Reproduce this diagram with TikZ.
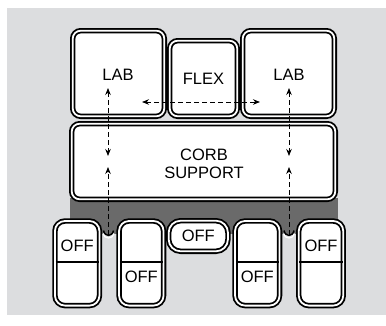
\documentclass[tikz,border=0pt]{standalone}
\usepackage{fontspec}
\setmainfont{Liberation Sans}
\usetikzlibrary{arrows.meta,calc}
\definecolor{bggray}{HTML}{DCDDDF}
\definecolor{dkgray}{HTML}{6A6A6A}
\begin{document}
\begin{tikzpicture}[x=1pt,y=-1pt,
  box/.style={draw=black, double=white, double distance=1.8pt, line width=1.8pt,
    fill=white, rounded corners=8pt, inner sep=0pt, align=center,
    font=\fontsize{16.5}{18.5}\selectfont},
  offbox/.style={box, rounded corners=10pt, minimum width=44.5pt, minimum height=84.6pt},
  txt/.style={inner sep=0pt, font=\fontsize{16.5}{18.5}\selectfont},
  divider/.style={line width=1.8pt, draw=black},
  flow/.style={draw=black, line width=0.8pt, dash pattern=on 5pt off 3pt},
  tip/.style={-{Stealth[length=7pt,width=5.5pt]}},
  tips/.style={{Stealth[length=7pt,width=5.5pt]}-{Stealth[length=7pt,width=5.5pt]}}
]
\useasboundingbox (0,0) rectangle (386,325);
% background
\fill[bggray] (7,8) rectangle (386,315);
% dark support band and channels
\fill[dkgray] (70,198) rectangle (338,234);
% boxes
\node[box, minimum width=91.6pt, minimum height=85.6pt] (labL) at (118.5,73.5) {};
\node[box, minimum width=67.6pt, minimum height=75.6pt] (flex) at (203.5,78.5) {FLEX};
\node[box, minimum width=91.6pt, minimum height=85.6pt] (labR) at (288.5,73.5) {};
\node[box, minimum width=263.6pt, minimum height=75.6pt] (corb) at (203.5,161.5) {};
\node[offbox] (off1) at (77.2,263.3) {};
\node[offbox] (off2) at (141.3,263.3) {};
\node[box, rounded corners=12pt, minimum width=59.3pt, minimum height=30.6pt] (off3) at (198.3,236) {OFF};
\node[offbox] (off4) at (257.3,263.3) {};
\node[offbox] (off5) at (321,263.3) {};
% channel ends
\draw[black, line width=1.5pt] (103.5,230.5) .. controls (104.5,237) and (112.5,237) .. (113.5,230.5);
\draw[white, line width=1.2pt] (103,233.5) .. controls (104,239.5) and (113,239.5) .. (114,233.5);
\draw[black, line width=1.5pt] (284,230.5) .. controls (285,237) and (293,237) .. (294,230.5);
\draw[white, line width=1.2pt] (283.5,233.5) .. controls (284.5,239.5) and (293.5,239.5) .. (294.5,233.5);
% dividers
\foreach \b in {off1,off2,off4,off5}{
  \draw[divider] ([xshift=1.6pt,yshift=1.3pt]\b.west) -- ([xshift=-1.6pt,yshift=1.3pt]\b.east);
}
% texts
\node[txt] (tLabL) at (118,75) {LAB};
\node[txt] (tLabR) at (289,75) {LAB};
\node[txt, align=center] (tCorb) at (204,164) {CORB\\SUPPORT};
\node[txt] (t1) at (77.2,245.5) {OFF};
\node[txt] (t2) at (141.3,276.5) {OFF};
\node[txt] (t4) at (257.3,276.5) {OFF};
\node[txt] (t5) at (321,245.5) {OFF};
% connector end points
\coordinate (lTop) at (108,88);
\coordinate (lMid) at (108,156);
\coordinate (lUp) at (108,167);
\coordinate (lBot) at (108,235);
\coordinate (rTop) at (289,88);
\coordinate (rMid) at (289,156);
\coordinate (rUp) at (289,167);
\coordinate (rBot) at (289,235);
\coordinate (hL) at (142,102);
\coordinate (hR) at (260,102);
% connectors
\draw[flow, tips] (lTop) -- (lMid);
\draw[flow, tip] (lBot) -- (lUp);
\draw[flow, tips] (rTop) -- (rMid);
\draw[flow, tip] (rBot) -- (rUp);
\draw[flow, tips] (hL) -- (hR);
\end{tikzpicture}
\end{document}
